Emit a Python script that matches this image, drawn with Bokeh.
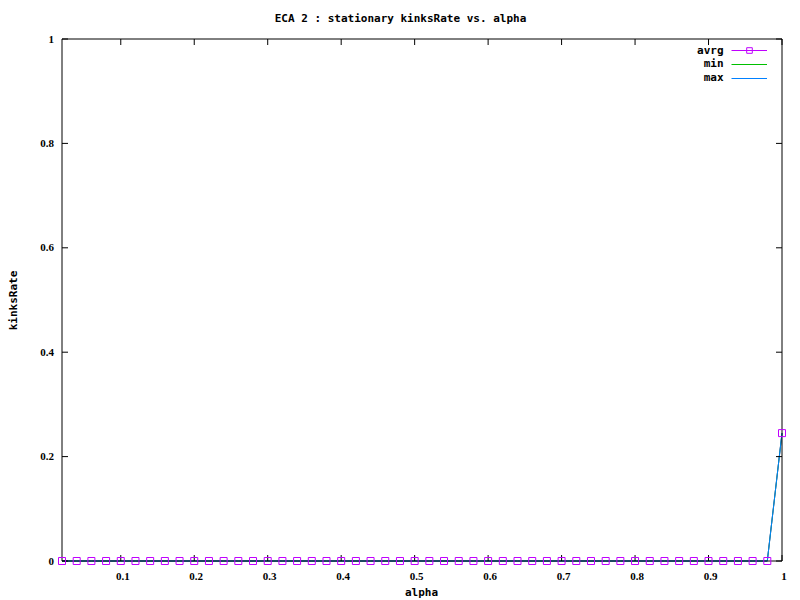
import math
from bokeh.plotting import figure
from bokeh.models import (Range1d, Legend, LegendItem, Label, LabelSet,
                          ColumnDataSource)
from bokeh.embed import file_html
from bokeh.resources import INLINE

# ---- data ----
alpha = [round(0.02 * i, 2) for i in range(1, 51)]
avrg = [0.0] * 49 + [0.245]
vmin = [0.0] * 49 + [0.245]
vmax = [0.0] * 49 + [0.245]
x_ticks = [0.1, 0.2, 0.3, 0.4, 0.5, 0.6, 0.7, 0.8, 0.9, 1.0]
x_tick_labels = ["0.1", "0.2", "0.3", "0.4", "0.5", "0.6", "0.7", "0.8", "0.9", "1"]
y_ticks = [0.0, 0.2, 0.4, 0.6, 0.8, 1.0]
y_tick_labels = ["0", "0.2", "0.4", "0.6", "0.8", "1"]
series_names = ["avrg", "min", "max"]

XMIN, XMAX, YMIN, YMAX = 0.02, 1.0, 0.0, 1.0
FONT = "DejaVu Sans Mono"
C_AVG = "#c000ff"
C_MIN = "#00c000"
C_MAX = "#0080ff"

# layout (pixels): the frame covers the whole canvas, the axis box sits inside it
W, H = 800, 600
BOX_L, BOX_R, BOX_T, BOX_B = 61.5, 781.5, 38.5, 560.5
px_x = (XMAX - XMIN) / (BOX_R - BOX_L)
px_y = (YMAX - YMIN) / (BOX_B - BOX_T)

p = figure(width=W, height=H,
           x_range=Range1d(XMIN - BOX_L * px_x, XMAX + (W - BOX_R) * px_x),
           y_range=Range1d(YMIN - (H - BOX_B) * px_y, YMAX + BOX_T * px_y),
           output_backend="svg", toolbar_location=None,
           min_border=0, min_border_left=0, min_border_right=0,
           min_border_top=0, min_border_bottom=0,
           x_axis_type=None, y_axis_type=None)
p.outline_line_color = None
p.xgrid.visible = False
p.ygrid.visible = False
p.background_fill_color = "white"
p.border_fill_color = "white"

# ---- data lines ----
r_avg_line = p.line(alpha, avrg, line_color=C_AVG, line_width=1)
r_min = p.line(alpha, vmin, line_color=C_MIN, line_width=1)
r_max = p.line(alpha, vmax, line_color=C_MAX, line_width=1)

# ---- border box and ticks (gnuplot style, ticks inside, mirrored) ----
p.multi_line(xs=[[XMIN, XMAX, XMAX, XMIN, XMIN]], ys=[[YMIN, YMIN, YMAX, YMAX, YMIN]],
             line_color="black", line_width=1)
TL = 6
tx0, tx1, ty0, ty1 = [], [], [], []
for t in x_ticks:
    tx0 += [t, t]; tx1 += [t, t]
    ty0 += [YMIN, YMAX]; ty1 += [YMIN + TL * px_y, YMAX - TL * px_y]
for t in y_ticks:
    ty0 += [t, t]; ty1 += [t, t]
    tx0 += [XMIN, XMAX]; tx1 += [XMIN + TL * px_x, XMAX - TL * px_x]
p.segment(tx0, ty0, tx1, ty1, line_color="black", line_width=1)

# ---- markers on top ----
r_avg_pts = p.scatter(alpha, avrg, marker="square", size=7, fill_color=None,
                      line_color=C_AVG, line_width=1)

# ---- tick labels ----
xsrc = ColumnDataSource(dict(x=x_ticks, y=[YMIN] * len(x_ticks), t=x_tick_labels))
p.add_layout(LabelSet(x="x", y="y", text="t", source=xsrc, y_offset=-15, x_offset=2,
                      text_align="center", text_baseline="middle", text_font=FONT,
                      text_font_style="bold", text_font_size="11px", text_color="black"))
ysrc = ColumnDataSource(dict(x=[XMIN] * len(y_ticks), y=y_ticks, t=y_tick_labels))
p.add_layout(LabelSet(x="x", y="y", text="t", source=ysrc, x_offset=-8,
                      text_align="right", text_baseline="middle", text_font=FONT,
                      text_font_style="bold", text_font_size="11px", text_color="black"))

# ---- title and axis labels ----
common = dict(x_units="screen", y_units="screen", text_font=FONT, text_font_style="bold",
              text_font_size="11px", text_color="black", text_baseline="middle")
p.add_layout(Label(x=400, y=H - 18, text="ECA 2 : stationary kinksRate vs. alpha",
                   text_align="center", **common))
p.add_layout(Label(x=421, y=H - 592, text="alpha", text_align="center", **common))
p.add_layout(Label(x=13, y=H - 300, text="kinksRate", text_align="center",
                   angle=math.pi / 2, **common))

# ---- legend: samples via Legend, names right-aligned on their left ----
legend = Legend(items=[
    LegendItem(label=" ", renderers=[r_avg_line, r_avg_pts]),
    LegendItem(label=" ", renderers=[r_min]),
    LegendItem(label=" ", renderers=[r_max]),
], location=(731, H - 85), glyph_width=36, glyph_height=14, spacing=0, padding=0,
    margin=0, label_width=0, label_standoff=0, label_height=14,
    label_text_font_size="1px", border_line_color=None, background_fill_alpha=0)
p.add_layout(legend)
for name, yy in zip(series_names, [50, 63, 77]):
    p.add_layout(Label(x=723, y=H - yy, text=name, text_align="right", **common))

open("out.html", "w").write(file_html(p, INLINE))
